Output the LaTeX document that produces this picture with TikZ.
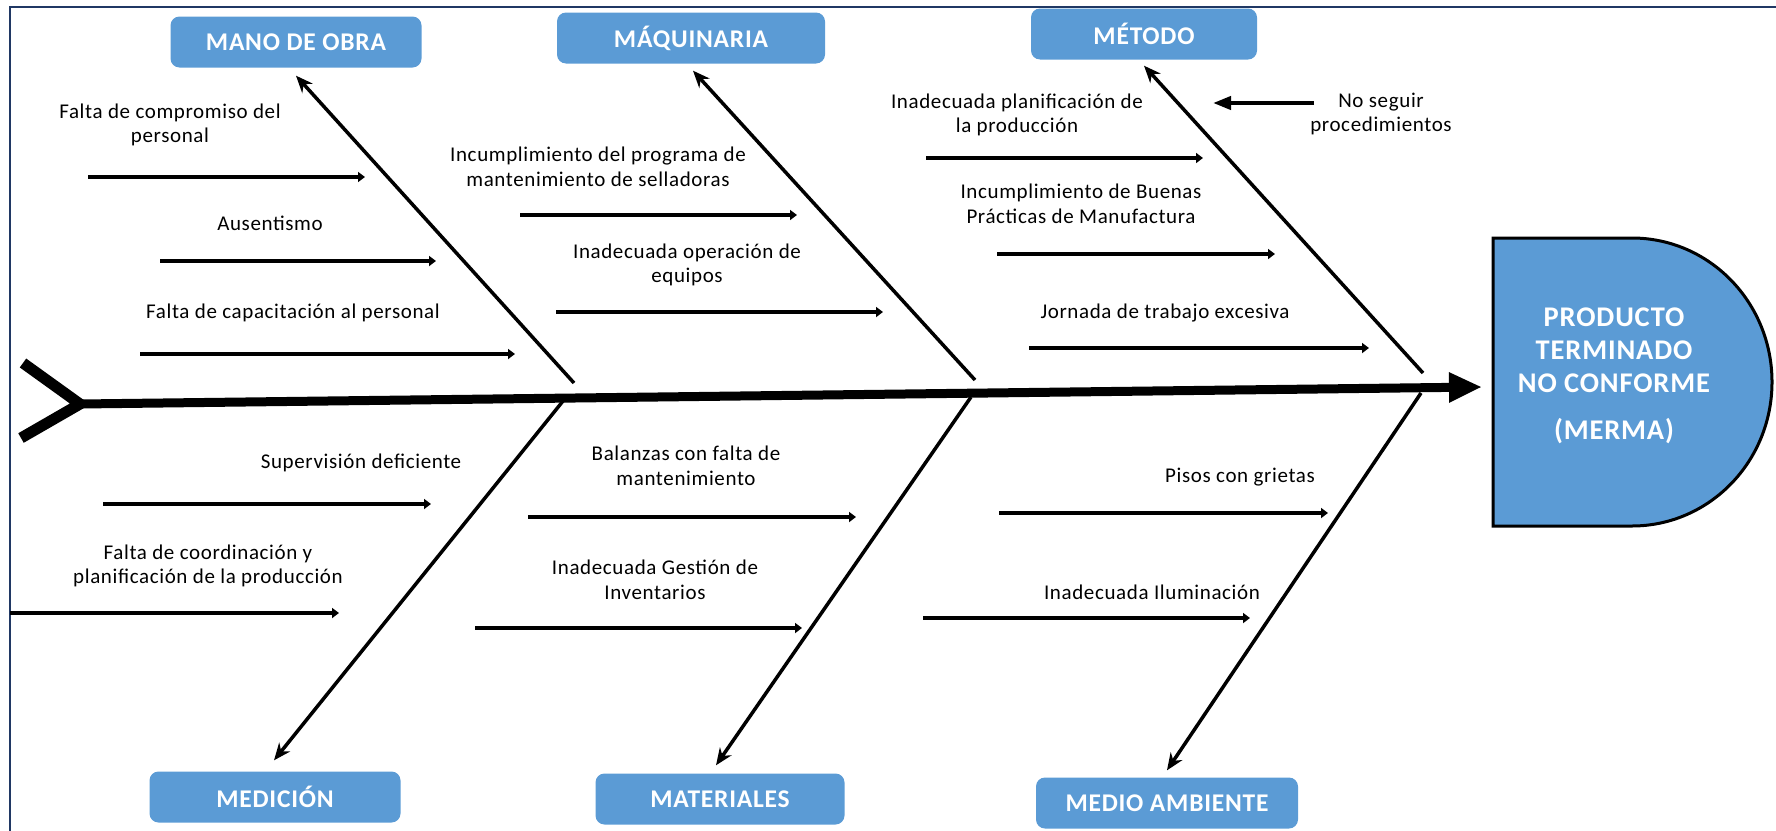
\documentclass[tikz,border=0pt]{standalone}
\usepackage{fontspec}
\setmainfont{Carlito}[LetterSpace=3]
\usepackage{xcolor}
\usepackage{tikz}
\usetikzlibrary{arrows.meta, calc}
\definecolor{catblue}{HTML}{5B9BD5}
\definecolor{framenavy}{HTML}{203864}

\begin{document}
\begin{tikzpicture}[
        x=1pt, y=-1pt,
        cat/.style={rectangle, rounded corners=9pt, fill=catblue, minimum height=51pt, text=white, font=\fontsize{25.5}{30}\selectfont\bfseries},
        cause/.style={align=center, inner sep=0pt, font=\fontsize{21}{24.5}\selectfont},
        prodtext/.style={align=center, inner sep=0pt, text=white, font=\fontsize{28.5}{33}\selectfont\bfseries},
        branch/.style={-{Triangle[length=7pt,width=10pt]}, line width=4pt},
        bone/.style={-{Stealth[length=17pt,width=14pt]}, line width=3.5pt},
        spine/.style={-{Triangle[length=33pt,width=28pt]}, line width=9pt}
    ]
        \useasboundingbox (0,0) rectangle (1776,830);
        \draw[framenavy, line width=2pt] (10,7) rectangle (1820,860);

        % Nodes
        \node[cat, minimum width=251pt] (mano) at (296,42) {MANO DE OBRA};
        \node[cat, minimum width=268pt] (maq) at (691,38) {MÁQUINARIA};
        \node[cat, minimum width=226pt] (metodo) at (1144,34) {MÉTODO};
        \node[cat, minimum width=251pt] (medicion) at (275,797) {MEDICIÓN};
        \node[cat, minimum width=249pt] (mat) at (720,799) {MATERIALES};
        \node[cat, minimum width=262pt] (medio) at (1167,803) {MEDIO AMBIENTE};

        % Effect
        \draw[fill=catblue, line width=3pt] (1493,238) -- (1632,238)
            arc[start angle=90, end angle=-90, x radius=140pt, y radius=144pt] -- (1493,526) -- cycle;
        \node[prodtext] (prod) at (1614,376) {PRODUCTO\\TERMINADO\\NO CONFORME\\[14pt](MERMA)};

        % Spine
        \coordinate (tail) at (80,404);
        \coordinate (tailtop) at (23,363);
        \coordinate (tailbot) at (21,438);
        \coordinate (head) at (1482,387);
        \draw[line width=11pt] (tailtop) -- (tail) -- (tailbot);
        \draw[spine] (tail) -- (head);

        % Bones
        \coordinate (jmano) at (574,383);
        \coordinate (jmaq) at (975,380);
        \coordinate (jmet) at (1423,373);
        \coordinate (jmed) at (563,401);
        \coordinate (jmat) at (971,397);
        \coordinate (jmedio) at (1421,393);
        \draw[bone] (jmano) -- ([yshift=-8pt]mano.south);
        \draw[bone] (jmaq) -- ([xshift=2pt,yshift=-7pt]maq.south);
        \draw[bone] (jmet) -- ([yshift=-6pt]metodo.south);
        \draw[bone] (jmed) -- ([xshift=-1pt,yshift=11pt]medicion.north);
        \draw[bone] (jmat) -- ([xshift=-4pt,yshift=8pt]mat.north);
        \draw[bone] (jmedio) -- ([yshift=7pt]medio.north);

        % Causes - mano de obra
        \node[cause] (t1) at (170,125) {Falta de compromiso del\\personal};
        \node[cause] (t2) at (270,223) {Ausentismo};
        \node[cause] (t3) at (293,313) {Falta de capacitación al personal};
        \coordinate (c1s) at (88,177);  \coordinate (c1e) at (365,177);
        \coordinate (c2s) at (160,261); \coordinate (c2e) at (436,261);
        \coordinate (c3s) at (140,354); \coordinate (c3e) at (515,354);
        \draw[branch] (c1s) -- (c1e);
        \draw[branch] (c2s) -- (c2e);
        \draw[branch] (c3s) -- (c3e);

        % Causes - maquinaria
        \node[cause] (t4) at (598,167) {Incumplimiento del programa de\\mantenimiento de selladoras};
        \node[cause] (t5) at (687,265) {Inadecuada operación de\\equipos};
        \coordinate (c4s) at (520,215); \coordinate (c4e) at (797,215);
        \coordinate (c5s) at (556,312); \coordinate (c5e) at (883,312);
        \draw[branch] (c4s) -- (c4e);
        \draw[branch] (c5s) -- (c5e);

        % Causes - metodo
        \node[cause] (t6) at (1017,115) {Inadecuada planificación de\\la producción};
        \node[cause] (t7) at (1081,204) {Incumplimiento de Buenas\\Prácticas de Manufactura};
        \node[cause] (t8) at (1165,313) {Jornada de trabajo excesiva};
        \node[cause] (t9) at (1381,114) {No seguir\\procedimientos};
        \coordinate (c6s) at (926,158);  \coordinate (c6e) at (1203,158);
        \coordinate (c7s) at (997,254);  \coordinate (c7e) at (1275,254);
        \coordinate (c8s) at (1029,348); \coordinate (c8e) at (1369,348);
        \coordinate (c9s) at (1314,103); \coordinate (c9e) at (1213,103);
        \draw[branch] (c6s) -- (c6e);
        \draw[branch] (c7s) -- (c7e);
        \draw[branch] (c8s) -- (c8e);
        \draw[-{Triangle[length=18pt,width=13pt]}, line width=4pt] (c9s) -- (c9e);

        % Causes - medicion
        \node[cause] (t10) at (361,463) {Supervisión deficiente};
        \node[cause] (t11) at (208,566) {Falta de coordinación y\\planificación de la producción};
        \coordinate (c10s) at (103,504); \coordinate (c10e) at (431,504);
        \coordinate (c11s) at (10,613);  \coordinate (c11e) at (339,613);
        \draw[branch] (c10s) -- (c10e);
        \draw[branch] (c11s) -- (c11e);

        % Causes - materiales
        \node[cause] (t12) at (686,466) {Balanzas con falta de\\mantenimiento};
        \node[cause] (t13) at (655,580) {Inadecuada Gestión de\\Inventarios};
        \coordinate (c12s) at (528,517); \coordinate (c12e) at (856,517);
        \coordinate (c13s) at (475,628); \coordinate (c13e) at (802,628);
        \draw[branch] (c12s) -- (c12e);
        \draw[branch] (c13s) -- (c13e);

        % Causes - medio ambiente
        \node[cause] (t14) at (1240,477) {Pisos con grietas};
        \node[cause] (t15) at (1152,592) {Inadecuada Iluminación};
        \coordinate (c14s) at (999,513); \coordinate (c14e) at (1328,513);
        \coordinate (c15s) at (923,618); \coordinate (c15e) at (1250,618);
        \draw[branch] (c14s) -- (c14e);
        \draw[branch] (c15s) -- (c15e);
    \end{tikzpicture}
\end{document}
